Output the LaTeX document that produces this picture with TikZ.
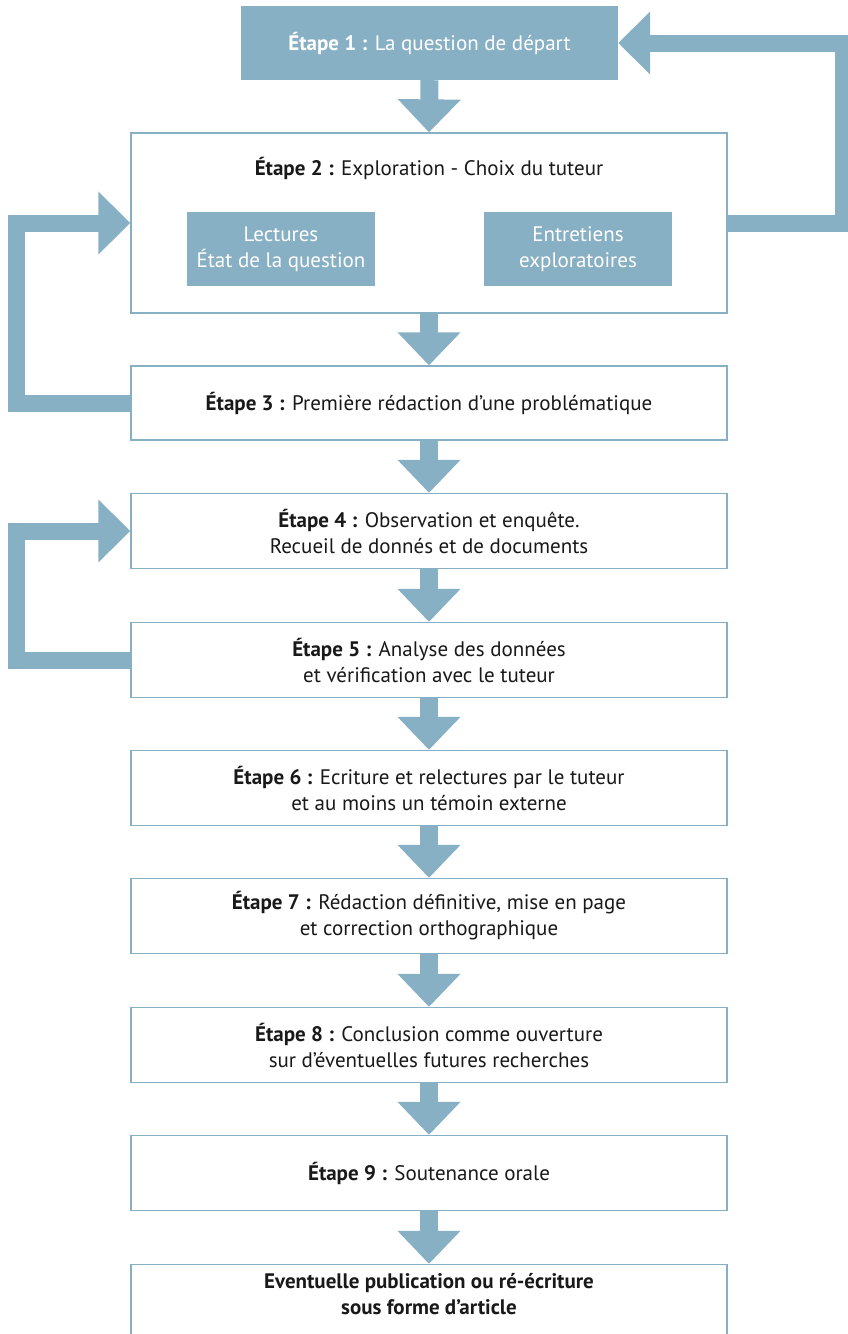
\documentclass[tikz,border=0pt]{standalone}
\usepackage{fontspec}
\setmainfont{PT Sans}
\usetikzlibrary{arrows.meta}
\definecolor{etapeblue}{HTML}{88B0C4}
\tikzset{
  etape/.style={rectangle,draw=etapeblue,line width=1.3pt,fill=white,
    minimum width=596pt,minimum height=75pt,inner sep=0pt,align=center,
    text=black!90,font=\fontsize{21}{26}\selectfont},
  etapefill/.style={rectangle,fill=etapeblue,inner sep=0pt,align=center,
    text=white,font=\fontsize{21}{26}\selectfont},
  flow/.style={draw=etapeblue,line width=18pt,-{Triangle[width=61pt,length=33pt]}},
  backloop/.style={draw=etapeblue,line width=17pt,-{Triangle[width=61pt,length=32pt]}}
}

\begin{document}
\begin{tikzpicture}[x=1pt,y=1pt]
\useasboundingbox (0,0) rectangle (848,-1334);
\path (429.5,-43) node(etape1) [etapefill,minimum width=377pt,minimum height=74pt] {\textbf{Étape 1 :} La question de départ}
(429,-223) node(etape2) [etape,minimum height=180pt] {}
(429,-168) node(titre2) [etapefill,fill=none,text=black!90] {\textbf{Étape 2 :} Exploration - Choix du tuteur}
(281,-249) node(lectures) [etapefill,minimum width=188pt,minimum height=74pt] {Lectures\\État de la question}
(578,-249) node(entretiens) [etapefill,minimum width=188pt,minimum height=74pt] {Entretiens\\exploratoires}
(429,-403) node(etape3) [etape,minimum height=74pt] {\textbf{Étape 3 :} Première rédaction d’une problématique}
(429,-531) node(etape4) [etape] {\textbf{Étape 4 :} Observation et enquête.\\Recueil de donnés et de documents}
(429,-660) node(etape5) [etape] {\textbf{Étape 5 :} Analyse des données\\et vérification avec le tuteur}
(429,-788) node(etape6) [etape] {\textbf{Étape 6 :} Ecriture et relectures par le tuteur\\et au moins un témoin externe}
(429,-916) node(etape7) [etape] {\textbf{Étape 7 :} Rédaction définitive, mise en page\\et correction orthographique}
(429,-1045) node(etape8) [etape] {\textbf{Étape 8 :} Conclusion comme ouverture\\sur d’éventuelles futures recherches}
(429,-1173) node(etape9) [etape] {\textbf{Étape 9 :} Soutenance orale}
(429,-1302) node(publication) [etape,text depth=17pt,font=\fontsize{21}{26}\selectfont\bfseries] {Eventuelle publication ou ré-écriture\\sous forme d’article};

\draw[flow] (etape1.south) -- (etape2.north);
\draw[flow] (etape2.south) -- (etape3.north);
\draw[flow] (etape3.south) -- (etape4.north);
\draw[flow] (etape4.south) -- (etape5.north);
\draw[flow] (etape5.south) -- (etape6.north);
\draw[flow] (etape6.south) -- (etape7.north);
\draw[flow] (etape7.south) -- (etape8.north);
\draw[flow] (etape8.south) -- (etape9.north);
\draw[flow] (etape9.south) -- (publication.north);

%retours
\draw[backloop] (etape2.east) -- ++(115.5,0) |- (etape1.east);
\draw[backloop] (etape3.west) -- ++(-113.5,0) |- (etape2.west);
\draw[backloop] (etape5.west) -- ++(-113.5,0) |- (etape4.west);
\end{tikzpicture}
\end{document}
